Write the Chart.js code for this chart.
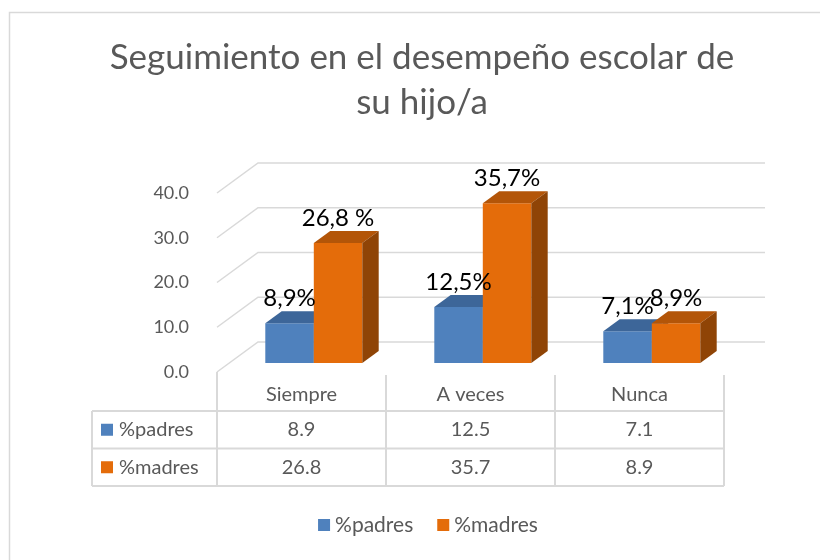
<!DOCTYPE html>
<html>
<head>
<meta charset="utf-8">
<script src="https://cdn.jsdelivr.net/npm/chart.js@4"></script>
<style>
html,body{margin:0;padding:0;background:#fff;}
#wrap{width:820px;height:560px;}
</style>
</head>
<body>
<div id="wrap"><canvas id="c" width="820" height="560"></canvas></div>
<script>
// ---- data ----
const categories = ['Siempre', 'A veces', 'Nunca'];
const seriesNames = ['%padres', '%madres'];
const padres = [8.9, 12.5, 7.1];
const madres = [26.8, 35.7, 8.9];
const padresLabels = ['8,9%', '12,5%', '7,1%'];
const madresLabels = ['26,8 %', '35,7%', '8,9%'];
const padresTable = ['8.9', '12.5', '7.1'];
const madresTable = ['26.8', '35.7', '8.9'];
const titleLines = ['Seguimiento en el desempeño escolar de', 'su hijo/a'];
const yMin = 0, yMax = 40, yStep = 10;

// ---- styles ----
const FONT = 'Lato, "Open Sans", sans-serif';
const GREY = '#595959';
const LINE = '#d9d9d9';
const COLORS = [
  {front: '#4F81BD', top: '#3D6699', side: '#2E4F78'},
  {front: '#E46C0A', top: '#B35508', side: '#8F4406'}
];
const DX = 41, DY = -30, D0 = 0.3, D1 = 0.7;

function poly(ctx, pts) {
  ctx.beginPath();
  ctx.moveTo(pts[0][0], pts[0][1]);
  for (let i = 1; i < pts.length; i++) ctx.lineTo(pts[i][0], pts[i][1]);
  ctx.closePath();
  ctx.fill();
}

const threeD = {
  id: 'threeD',
  beforeDraw(chart) {
    const ctx = chart.ctx;
    ctx.save();
    ctx.fillStyle = '#fff';
    ctx.fillRect(0, 0, chart.width, chart.height);
    // outer frame
    ctx.strokeStyle = LINE; ctx.lineWidth = 1.5;
    ctx.beginPath(); ctx.moveTo(9.5, 560); ctx.lineTo(9.5, 12.5); ctx.lineTo(820, 12.5); ctx.stroke();
    // title
    ctx.fillStyle = GREY;
    ctx.font = '35px ' + FONT;
    ctx.textAlign = 'center'; ctx.textBaseline = 'middle';
    ctx.fillText(titleLines[0], 422, 58);
    ctx.fillText(titleLines[1], 422, 103);
    // side + back wall gridlines
    const {left, right} = chart.chartArea;
    const ys = chart.scales.y;
    ctx.strokeStyle = LINE; ctx.lineWidth = 1.5;
    ys.ticks.forEach(t => {
      const py = ys.getPixelForValue(t.value);
      ctx.beginPath();
      ctx.moveTo(left, py);
      ctx.lineTo(left + DX, py + DY);
      ctx.lineTo(right + DX, py + DY);
      ctx.stroke();
    });
    ctx.restore();
  },
  beforeDatasetsDraw(chart) {
    const ctx = chart.ctx;
    const bdx = DX * (D1 - D0), bdy = DY * (D1 - D0);
    const labelSets = [padresLabels, madresLabels];
    ctx.save();
    ctx.translate(DX * D0, DY * D0);
    for (let i = 0; i < categories.length; i++) {
      chart.data.datasets.forEach((ds, di) => {
        const el = chart.getDatasetMeta(di).data[i];
        const p = el.getProps(['x', 'y', 'base', 'width'], true);
        el.draw(ctx);
        const l = p.x - p.width / 2, r = p.x + p.width / 2;
        ctx.fillStyle = COLORS[di].top;
        poly(ctx, [[l, p.y], [r, p.y], [r + bdx, p.y + bdy], [l + bdx, p.y + bdy]]);
        ctx.fillStyle = COLORS[di].side;
        poly(ctx, [[r, p.y], [r + bdx, p.y + bdy], [r + bdx, p.base + bdy], [r, p.base]]);
      });
    }
    // data labels
    ctx.fillStyle = '#000';
    ctx.font = '24px ' + FONT;
    ctx.textAlign = 'center'; ctx.textBaseline = 'alphabetic';
    chart.data.datasets.forEach((ds, di) => {
      chart.getDatasetMeta(di).data.forEach((el, i) => {
        const p = el.getProps(['x', 'y'], true);
        ctx.fillText(labelSets[di][i], p.x, p.y + bdy - 5);
      });
    });
    ctx.restore();
    return false;
  },
  afterDraw(chart) {
    const ctx = chart.ctx;
    const {left, right, bottom} = chart.chartArea;
    const xs = chart.scales.x;
    const n = categories.length;
    const cw = (right - left) / n;
    const tLeft = 92;
    const rowH = [bottom, bottom + 39, bottom + 76.5, bottom + 114];
    ctx.save();
    ctx.strokeStyle = LINE; ctx.lineWidth = 2;
    // horizontal lines
    for (let r = 1; r < rowH.length; r++) {
      ctx.beginPath(); ctx.moveTo(tLeft, rowH[r]); ctx.lineTo(right, rowH[r]); ctx.stroke();
    }
    // vertical lines
    ctx.beginPath(); ctx.moveTo(tLeft, rowH[1]); ctx.lineTo(tLeft, rowH[3]); ctx.stroke();
    for (let i = 0; i <= n; i++) {
      const x = left + i * cw;
      ctx.beginPath(); ctx.moveTo(x, i === 0 ? rowH[0] : rowH[0] + 3); ctx.lineTo(x, rowH[3]); ctx.stroke();
    }
    // text
    ctx.fillStyle = GREY;
    ctx.font = '20px ' + FONT;
    ctx.textAlign = 'center'; ctx.textBaseline = 'middle';
    const tables = [padresTable, madresTable];
    categories.forEach((c, i) => {
      const cx = xs.getPixelForValue(i);
      ctx.fillText(c, cx, (rowH[0] + rowH[1]) / 2 + 3);
      ctx.fillText(tables[0][i], cx, (rowH[1] + rowH[2]) / 2);
      ctx.fillText(tables[1][i], cx, (rowH[2] + rowH[3]) / 2);
    });
    // row headers
    ctx.textAlign = 'left';
    seriesNames.forEach((s, di) => {
      const cy = (rowH[di + 1] + rowH[di + 2]) / 2;
      ctx.fillStyle = COLORS[di].front;
      ctx.fillRect(101, cy - 6, 12, 12);
      ctx.fillStyle = GREY;
      ctx.fillText(s, 119, cy);
    });
    // legend
    ctx.font = '21px ' + FONT;
    const box = 12, gap = 5, sep = 24;
    const widths = seriesNames.map(s => box + gap + ctx.measureText(s).width);
    const total = widths.reduce((a, b) => a + b, 0) + sep;
    let lx = 428 - total / 2;
    const ly = 525;
    seriesNames.forEach((s, di) => {
      ctx.fillStyle = COLORS[di].front;
      ctx.fillRect(lx, ly - box / 2, box, box);
      ctx.fillStyle = GREY;
      ctx.fillText(s, lx + box + gap, ly);
      lx += widths[di] + sep;
    });
    ctx.restore();
  }
};

new Chart(document.getElementById('c'), {
  type: 'bar',
  data: {
    labels: categories,
    datasets: [
      {label: seriesNames[0], data: padres, backgroundColor: COLORS[0].front, borderWidth: 0},
      {label: seriesNames[1], data: madres, backgroundColor: COLORS[1].front, borderWidth: 0}
    ]
  },
  options: {
    responsive: false,
    animation: false,
    events: [],
    layout: {padding: {left: 0, right: 96, top: 193, bottom: 188}},
    datasets: {bar: {categoryPercentage: 0.574, barPercentage: 1.0}},
    plugins: {legend: {display: false}, title: {display: false}, tooltip: {enabled: false}},
    scales: {
      x: {display: false},
      y: {
        min: yMin, max: yMax,
        afterFit(s) { s.width = 217; },
        grid: {display: false},
        border: {display: false},
        ticks: {
          stepSize: yStep,
          padding: 20,
          color: GREY,
          font: {family: FONT, size: 18},
          callback: v => v.toFixed(1)
        }
      }
    }
  },
  plugins: [threeD]
});
</script>
</body>
</html>
